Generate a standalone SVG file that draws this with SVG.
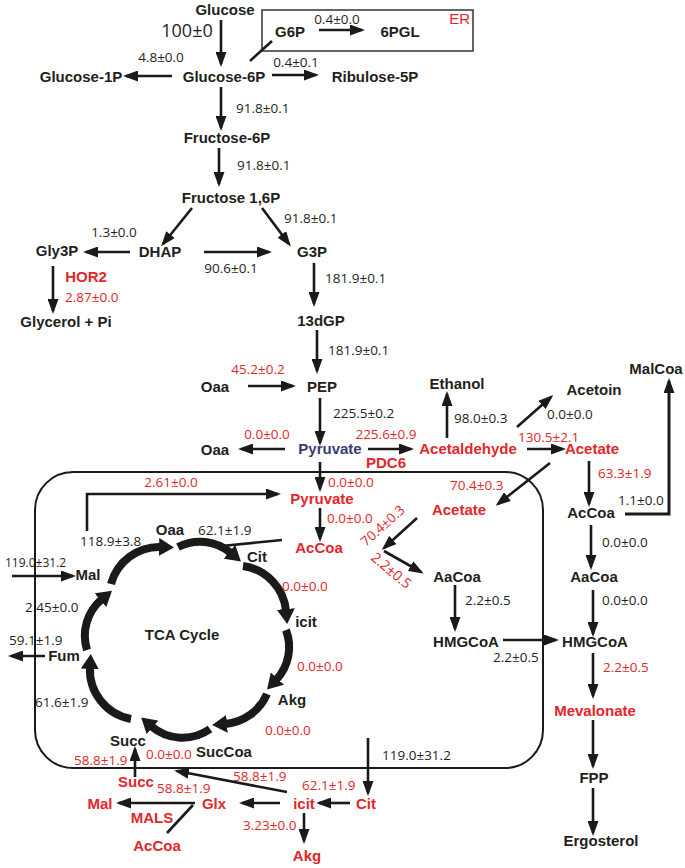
<svg xmlns="http://www.w3.org/2000/svg" width="685" height="868" viewBox="0 0 685 868">
<style>
text{font-family:"Liberation Sans",Arial,sans-serif;fill:#231f20}
.lb{font-weight:bold;font-size:15px;text-anchor:middle}
.n{font-family:"Open Sans","Liberation Sans",sans-serif;font-size:13.5px}
.m{text-anchor:middle}
.r{fill:#e3262b}
.pu{fill:#3b3a78}
.c{stroke:#1a1a1a;stroke-width:2.6;fill:none;marker-end:url(#ah)}
.l{stroke:#1a1a1a;stroke-width:2.6;fill:none}
.t{stroke:#1a1a1a;stroke-width:8;fill:none;marker-end:url(#aht)}
</style>
<defs>
<marker id="ah" markerUnits="userSpaceOnUse" markerWidth="15" markerHeight="11" refX="12" refY="5.5" orient="auto">
<path d="M0,0 L15,5.5 L0,11 z" fill="#1a1a1a"/>
</marker>
<marker id="aht" markerUnits="userSpaceOnUse" markerWidth="15" markerHeight="18" refX="2" refY="9" orient="auto">
<path d="M0,0 L15,9 L0,18 z" fill="#1a1a1a"/>
</marker>
</defs>

<g id="compartments">
<rect id="er-box" x="262" y="10" width="211" height="41" fill="none" stroke="#333" stroke-width="1.5"/>
<rect id="mito-box" x="35" y="472" width="508" height="296" rx="38" fill="none" stroke="#1a1a1a" stroke-width="2"/>
</g>

<g id="connectors">
<path class="c" d="M221,20 V64"/>
<path class="c" d="M319,30 H362"/>
<path class="c" d="M172,76 H126"/>
<path class="c" d="M272,75 H316"/>
<path class="l" d="M250,61 L272,41"/>
<path class="c" d="M221,87 V128"/>
<path class="c" d="M219,148 V184"/>
<path class="c" d="M192,208 L163,244"/>
<path class="c" d="M262,208 L289,244"/>
<path class="c" d="M130,252 H86"/>
<path class="c" d="M204,252 H269"/>
<path class="c" d="M53,266 V311"/>
<path class="c" d="M314,263 V304"/>
<path class="c" d="M317,330 V371"/>
<path class="c" d="M248,386 H293"/>
<path class="c" d="M320,398 V443"/>
<path class="c" d="M285,449 H241"/>
<path class="c" d="M368,449 H411"/>
<path class="c" d="M447,438 V394"/>
<path class="c" d="M517,427 L551,397"/>
<path class="c" d="M527,449 H563"/>
<path class="c" d="M589,461 V504"/>
<path class="c" d="M550,463 L498,504"/>
<path class="c" d="M320,462 V489"/>
<path class="c" d="M320,508 V539"/>
<path class="c" d="M87,531 V494 H278"/>
<path class="l" d="M282,540 L222,546"/>
<path class="c" d="M12,576 H73"/>
<path class="c" d="M45,656 H11"/>
<path class="c" d="M417,518 L384,548"/>
<path class="c" d="M384,551 L421,572"/>
<path class="c" d="M455,585 V629"/>
<path class="c" d="M503,640 H556"/>
<path class="c" d="M591,525 V567"/>
<path class="c" d="M593,590 V634"/>
<path class="c" d="M593,653 V696"/>
<path class="c" d="M593,720 V766"/>
<path class="c" d="M593,788 V833"/>
<path class="c" style="stroke-width:3" d="M625,514 H669 V381"/>
<path class="c" d="M368,738 V793"/>
<path class="c" d="M350,803 H319"/>
<path class="c" d="M280,803 H242"/>
<path class="c" d="M195,803 H119"/>
<path class="l" d="M193,805 L167,833"/>
<path class="c" d="M304,813 V841"/>
<path class="c" d="M287,792 L177,771"/>
<path class="c" d="M135,777 V749"/>
<g id="tca-arcs">
<path class="t" d="M111,584 A50,50 0 0 1 161,547"/>
<path class="t" d="M178,547 A48,48 0 0 1 231,553"/>
<path class="t" d="M243,566 A50,50 0 0 1 286,611"/>
<path class="t" d="M286,630 A48,48 0 0 1 276,680"/>
<path class="t" d="M267,694 A50,50 0 0 1 225,724"/>
<path class="t" d="M210,729 A48,48 0 0 1 151,726"/>
<path class="t" d="M131,719 A50,50 0 0 1 90,667"/>
<path class="t" d="M87,650 A48,48 0 0 1 102,599"/>
</g>
</g>

<g id="edge-labels">
<text class="n m" x="187" y="37" style="font-size:18px">100±0</text>
<text class="n m" x="337" y="24">0.4±0.0</text>
<text class="n m" x="161" y="62">4.8±0.0</text>
<text class="n m" x="296" y="67">0.4±0.1</text>
<text class="n" x="236" y="113">91.8±0.1</text>
<text class="n" x="237" y="170">91.8±0.1</text>
<text class="n" x="284" y="223">91.8±0.1</text>
<text class="n m" x="114" y="237">1.3±0.0</text>
<text class="n m" x="231" y="273">90.6±0.1</text>
<text class="n r" x="65" y="302">2.87±0.0</text>
<text class="n" x="325" y="283">181.9±0.1</text>
<text class="n" x="328" y="355">181.9±0.1</text>
<text class="n m r" x="258" y="374">45.2±0.2</text>
<text class="n" x="333" y="418">225.5±0.2</text>
<text class="n" x="454" y="423">98.0±0.3</text>
<text class="n" x="547" y="419">0.0±0.0</text>
<text class="n m r" x="267" y="439">0.0±0.0</text>
<text class="n m r" x="386" y="439">225.6±0.9</text>
<text class="n r" x="518" y="442">130.5±2.1</text>
<text class="n r" x="598" y="478">63.3±1.9</text>
<text class="n m r" x="171" y="487">2.61±0.0</text>
<text class="n r" x="328" y="487">0.0±0.0</text>
<text class="n r" x="450" y="490">70.4±0.3</text>
<text class="n" x="618" y="505">1.1±0.0</text>
<text class="n r" x="327" y="523">0.0±0.0</text>
<text class="n" x="198" y="535">62.1±1.9</text>
<text class="n" x="80" y="546">118.9±3.8</text>
<text class="n" x="602" y="547">0.0±0.0</text>
<text class="n" x="5" y="567" style="font-size:12px">119.0±31.2</text>
<text class="n r" x="282" y="591">0.0±0.0</text>
<text class="n" x="465" y="605">2.2±0.5</text>
<text class="n" x="602" y="605">0.0±0.0</text>
<text class="n" x="25" y="612">2.45±0.0</text>
<text class="n" x="9" y="645">59.1±1.9</text>
<text class="n" x="493" y="662">2.2±0.5</text>
<text class="n r" x="297" y="671">0.0±0.0</text>
<text class="n r" x="603" y="672">2.2±0.5</text>
<text class="n" x="35" y="707">61.6±1.9</text>
<text class="n r" x="265" y="735">0.0±0.0</text>
<text class="n r" x="146" y="759">0.0±0.0</text>
<text class="n" x="382" y="760">119.0±31.2</text>
<text class="n r" x="74" y="765">58.8±1.9</text>
<text class="n r" x="233" y="781">58.8±1.9</text>
<text class="n r" x="302" y="790">62.1±1.9</text>
<text class="n r" x="157" y="793">58.8±1.9</text>
<text class="n r" x="243" y="830">3.23±0.0</text>
<text class="n r" transform="translate(366,547) rotate(-42)">70.4±0.3</text>
<text class="n r" transform="translate(370,559) rotate(40)" style="font-size:14px">2.2±0.5</text>
</g>

<g id="n-glucose"><text class="lb" x="225" y="15">Glucose</text></g>
<g id="n-er"><text class="r" x="470" y="24" style="font-size:15px;text-anchor:end">ER</text></g>
<g id="n-g6p-er"><text class="lb" x="290" y="37">G6P</text></g>
<g id="n-6pgl"><text class="lb" x="400" y="37">6PGL</text></g>
<g id="n-glucose-1p"><text class="lb" x="81" y="82">Glucose-1P</text></g>
<g id="n-glucose-6p"><text class="lb" x="224" y="82">Glucose-6P</text></g>
<g id="n-ribulose-5p"><text class="lb" x="375" y="82">Ribulose-5P</text></g>
<g id="n-fructose-6p"><text class="lb" x="227" y="143">Fructose-6P</text></g>
<g id="n-fructose-16p"><text class="lb" x="231" y="203">Fructose 1,6P</text></g>
<g id="n-gly3p"><text class="lb" x="57" y="256">Gly3P</text></g>
<g id="n-dhap"><text class="lb" x="160" y="257">DHAP</text></g>
<g id="n-g3p"><text class="lb" x="312" y="257">G3P</text></g>
<g id="n-hor2"><text class="lb r" x="86" y="282">HOR2</text></g>
<g id="n-glycerol"><text class="lb" x="66" y="327">Glycerol + Pi</text></g>
<g id="n-13dgp"><text class="lb" x="321" y="326">13dGP</text></g>
<g id="n-oaa1"><text class="lb" x="215" y="392">Oaa</text></g>
<g id="n-pep"><text class="lb" x="322" y="392">PEP</text></g>
<g id="n-ethanol"><text class="lb" x="457" y="389">Ethanol</text></g>
<g id="n-acetoin"><text class="lb" x="594" y="395">Acetoin</text></g>
<g id="n-malcoa"><text class="lb" x="656" y="374">MalCoa</text></g>
<g id="n-oaa2"><text class="lb" x="215" y="455">Oaa</text></g>
<g id="n-pyruvate"><text class="lb pu" x="330" y="454">Pyruvate</text></g>
<g id="n-acetaldehyde"><text class="lb r" x="468" y="454">Acetaldehyde</text></g>
<g id="n-acetate"><text class="lb r" x="592" y="454">Acetate</text></g>
<g id="n-pdc6"><text class="lb r" x="386" y="468">PDC6</text></g>
<g id="n-pyruvate-m"><text class="lb r" x="322" y="504">Pyruvate</text></g>
<g id="n-accoa-m"><text class="lb r" x="319" y="553">AcCoa</text></g>
<g id="n-acetate-m"><text class="lb r" x="459" y="515">Acetate</text></g>
<g id="n-accoa"><text class="lb" x="591" y="518">AcCoa</text></g>
<g id="n-oaa-tca"><text class="lb" x="170" y="535">Oaa</text></g>
<g id="n-cit"><text class="lb" x="257" y="562">Cit</text></g>
<g id="n-mal"><text class="lb" x="88" y="580">Mal</text></g>
<g id="n-aacoa-m"><text class="lb" x="457" y="582">AaCoa</text></g>
<g id="n-aacoa"><text class="lb" x="594" y="582">AaCoa</text></g>
<g id="n-icit"><text class="lb" x="306" y="627">icit</text></g>
<g id="n-tca"><text class="lb" x="182" y="640">TCA Cycle</text></g>
<g id="n-hmgcoa-m"><text class="lb" x="466" y="647">HMGCoA</text></g>
<g id="n-hmgcoa"><text class="lb" x="595" y="647">HMGCoA</text></g>
<g id="n-fum"><text class="lb" x="64" y="661">Fum</text></g>
<g id="n-akg"><text class="lb" x="292" y="705">Akg</text></g>
<g id="n-mevalonate"><text class="lb r" x="595" y="716">Mevalonate</text></g>
<g id="n-succ"><text class="lb" x="128" y="746">Succ</text></g>
<g id="n-succoa"><text class="lb" x="224" y="757">SucCoa</text></g>
<g id="n-fpp"><text class="lb" x="594" y="783">FPP</text></g>
<g id="n-succ-c"><text class="lb r" x="136" y="787">Succ</text></g>
<g id="n-mal-c"><text class="lb r" x="100" y="809">Mal</text></g>
<g id="n-glx"><text class="lb r" x="214" y="809">Glx</text></g>
<g id="n-icit-c"><text class="lb r" x="304" y="809">icit</text></g>
<g id="n-cit-c"><text class="lb r" x="366" y="809">Cit</text></g>
<g id="n-mals"><text class="lb r" x="152" y="823">MALS</text></g>
<g id="n-accoa-c"><text class="lb r" x="157" y="851">AcCoa</text></g>
<g id="n-akg-c"><text class="lb r" x="307" y="861">Akg</text></g>
<g id="n-ergosterol"><text class="lb" x="601" y="846">Ergosterol</text></g>
</svg>
